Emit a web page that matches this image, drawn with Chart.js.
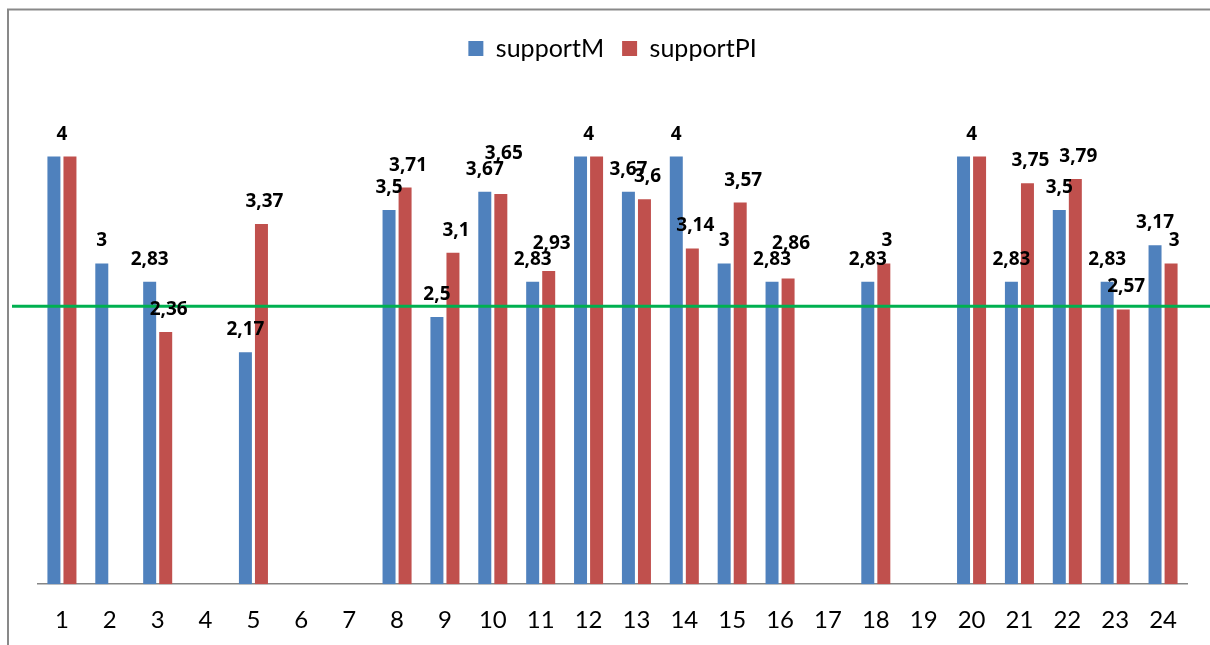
<!DOCTYPE html>
<html>
<head>
<meta charset="utf-8">
<script src="https://cdn.jsdelivr.net/npm/chart.js@4/dist/chart.umd.min.js"></script>
<style>
  body { margin: 0; background: #fff; }
  #wrap { width: 1210px; height: 645px; }
</style>
</head>
<body>
<div id="wrap"><canvas id="myChart"></canvas></div>
<script>
const xlabels = ['1','2','3','4','5','6','7','8','9','10','11','12','13','14','15','16','17','18','19','20','21','22','23','24'];
const supportM  = [4, 3, 2.83, null, 2.17, null, null, 3.5, 2.5, 3.67, 2.83, 4, 3.67, 4, 3, 2.83, null, 2.83, null, 4, 2.83, 3.5, 2.83, 3.17];
const supportPI = [4, null, 2.36, null, 3.37, null, null, 3.71, 3.1, 3.65, 2.93, 4, 3.6, 3.14, 3.57, 2.86, null, 3, null, 4, 3.75, 3.79, 2.57, 3];
const targetLine = 2.6;

// frame + white background
const framePlugin = {
  id: 'frame',
  beforeDraw(chart) {
    const c = chart.ctx;
    c.save();
    c.fillStyle = '#fff';
    c.fillRect(0, 0, chart.width, chart.height);
    c.strokeStyle = '#898989';
    c.lineWidth = 2;
    c.beginPath();
    c.moveTo(8, chart.height);
    c.lineTo(8, 9.5);
    c.lineTo(chart.width, 9.5);
    c.stroke();
    c.restore();
  }
};

// green line + value labels
const extrasPlugin = {
  id: 'extras',
  afterDatasetsDraw(chart) {
    const c = chart.ctx;
    const y = chart.scales.y.getPixelForValue(targetLine);
    c.save();
    c.strokeStyle = '#00B050';
    c.lineWidth = 3;
    c.beginPath();
    c.moveTo(12, y);
    c.lineTo(chart.width, y);
    c.stroke();

    c.fillStyle = '#000';
    c.font = 'bold 19px "Noto Sans"';
    c.textAlign = 'center';
    c.textBaseline = 'alphabetic';
    const m0 = chart.getDatasetMeta(0).data;
    const m1 = chart.getDatasetMeta(1).data;
    const txt = v => String(v).replace('.', ',');
    xlabels.forEach((lab, i) => {
      const a = supportM[i], b = supportPI[i];
      if (a != null && a === b) {
        c.fillText(txt(a), (m0[i].x + m1[i].x) / 2, m0[i].y - 17);
        return;
      }
      let ya = a != null ? m0[i].y - 17 : null;
      let yb = b != null ? m1[i].y - 17 : null;
      // nudge the red label up when it would sit on the blue one
      if (ya != null && yb != null && yb > ya - 14 && yb < ya + 6) yb = ya - 16;
      if (a != null) c.fillText(txt(a), m0[i].x, ya);
      if (b != null) c.fillText(txt(b), m1[i].x + 3, yb);
    });
    c.restore();
  }
};

const ctx = document.getElementById('myChart').getContext('2d');
const myChart = new Chart(ctx, {
  type: 'bar',
  data: {
    labels: xlabels,
    datasets: [
      { label: 'supportM', data: supportM, backgroundColor: '#4F81BD', categoryPercentage: 0.67, barPercentage: 0.81 },
      { label: 'supportPI', data: supportPI, backgroundColor: '#C0504D', categoryPercentage: 0.67, barPercentage: 0.81 }
    ]
  },
  options: {
    responsive: true,
    maintainAspectRatio: false,
    animation: false,
    layout: { padding: { top: 18, left: 38, right: 23, bottom: -12 } },
    plugins: {
      tooltip: { enabled: false },
      legend: {
        position: 'top',
        labels: {
          font: { family: 'Lato', size: 25 },
          color: '#000',
          boxWidth: 15,
          boxHeight: 15,
          padding: 18
        }
      }
    },
    scales: {
      x: {
        grid: { display: false, drawTicks: false },
        border: { display: true, color: '#868686', width: 1.5 },
        ticks: { font: { family: 'Lato', size: 24 }, color: '#000', padding: 22, autoSkip: false, maxRotation: 0 }
      },
      y: {
        display: false,
        min: 0,
        max: 4.8
      }
    }
  },
  plugins: [framePlugin, extrasPlugin]
});
</script>
</body>
</html>
